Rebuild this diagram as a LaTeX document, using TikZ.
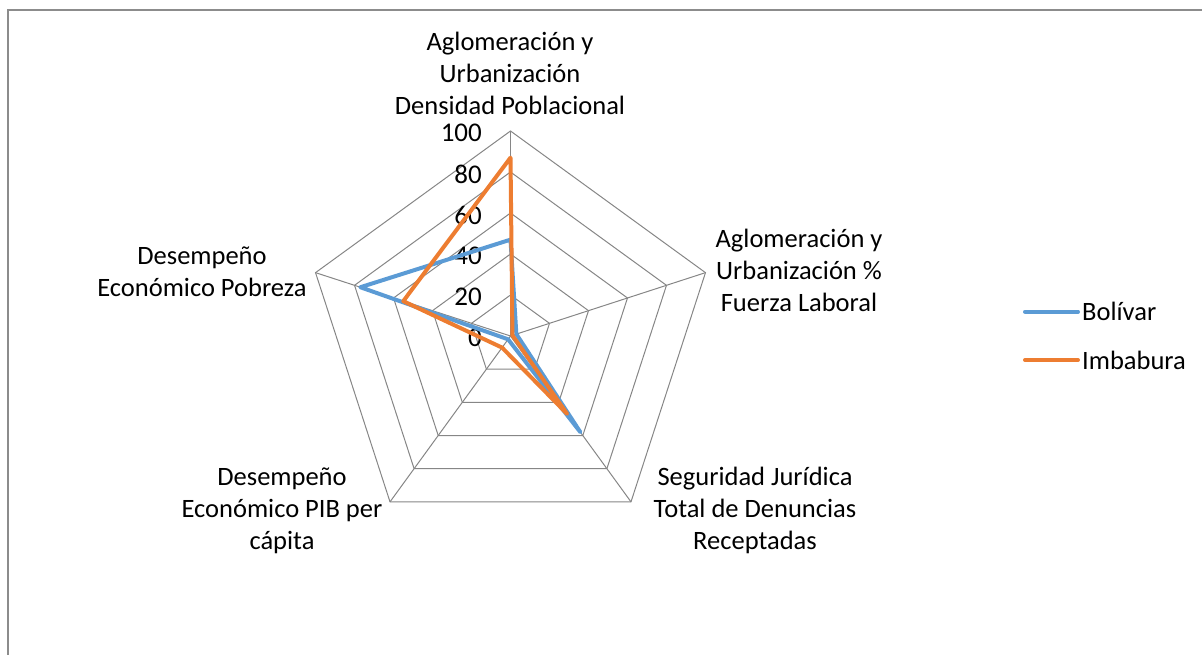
\documentclass[tikz,border=0pt]{standalone}
\usepackage{fontspec}
\setmainfont{Carlito}
\definecolor{bblue}{HTML}{5B9BD5}
\definecolor{borange}{HTML}{ED7D31}
\definecolor{gridgray}{HTML}{868686}
\definecolor{framegray}{HTML}{8C8C8C}
\begin{document}
\begin{tikzpicture}[x=1pt,y=1pt,
  lbl/.style={font=\fontsize{26.5}{32}\selectfont, align=center, inner sep=0pt},
  ticklbl/.style={font=\fontsize{27}{32}\selectfont, anchor=east, inner sep=0pt},
  ring/.style={draw=gridgray, line width=1pt},
  frameline/.style={draw=framegray, line width=1.5pt},
  series/.style={line width=4pt, line join=round, line cap=round},
  legline/.style={line width=4pt, line cap=round}]
\useasboundingbox (0,0) rectangle (1202,-655);
\draw[frameline] (1215,-10) -- (8,-10) -- (8,-670);
\begin{scope}[shift={(510.5,-336)}]
  \coordinate (C) at (0,0);
  % rings
  \foreach \k in {1,...,5} {
    \draw[ring] (90:41*\k) -- (18:41*\k) -- (-54:41*\k) -- (-126:41*\k) -- (162:41*\k) -- cycle;
  }
  % spokes
  \foreach \a/\n in {90/a1,18/a2,-54/a3,-126/a4,162/a5} {
    \coordinate (\n) at (\a:205);
    \draw[ring] (C) -- (\n);
  }
  % tick labels
  \foreach \v in {0,20,...,100} {
    \node[ticklbl] (t\v) at (-28.5,2.05*\v-2) {\v};
  }
  % Bolivar
  \coordinate (b1) at (90:2.05*47);
  \coordinate (b2) at (18:2.05*3);
  \coordinate (b3) at (-54:2.05*58);
  \coordinate (b4) at (-126:2.05*2);
  \coordinate (b5) at (162:2.05*77);
  \draw[series, bblue] (b1) -- (b2) -- (b3) -- (b4) -- (b5) -- cycle;
  % Imbabura
  \coordinate (i1) at (90:2.05*87);
  \coordinate (i2) at (18:2.05*1);
  \coordinate (i3) at (-54:2.05*47);
  \coordinate (i4) at (-126:2.05*7);
  \coordinate (i5) at (162:2.05*55);
  \draw[series, borange] (i1) -- (i2) -- (i3) -- (i4) -- (i5) -- cycle;
\end{scope}
% axis labels
\node[lbl] (l1) at (510,-73) {Aglomeración y\\Urbanización\\Densidad Poblacional};
\node[lbl] (l2) at (799,-270) {Aglomeración y\\Urbanización \%\\Fuerza Laboral};
\node[lbl] (l3) at (755,-510) {Seguridad Jurídica\\Total de Denuncias\\Receptadas};
\node[lbl] (l4) at (282,-511) {Desempeño\\Económico PIB per\\cápita};
\node[lbl] (l5) at (202,-271.5) {Desempeño\\Económico Pobreza};
% legend
\coordinate (lb0) at (1025,-311.7);
\coordinate (lb1) at (1078,-311.7);
\coordinate (lo0) at (1025,-360);
\coordinate (lo1) at (1078,-360);
\draw[legline, bblue] (lb0) -- (lb1);
\draw[legline, borange] (lo0) -- (lo1);
\node[lbl, anchor=west] (lbt) at (1082,-311.7) {Bolívar};
\node[lbl, anchor=west] (lot) at (1082,-360) {Imbabura};
\end{tikzpicture}
\end{document}
